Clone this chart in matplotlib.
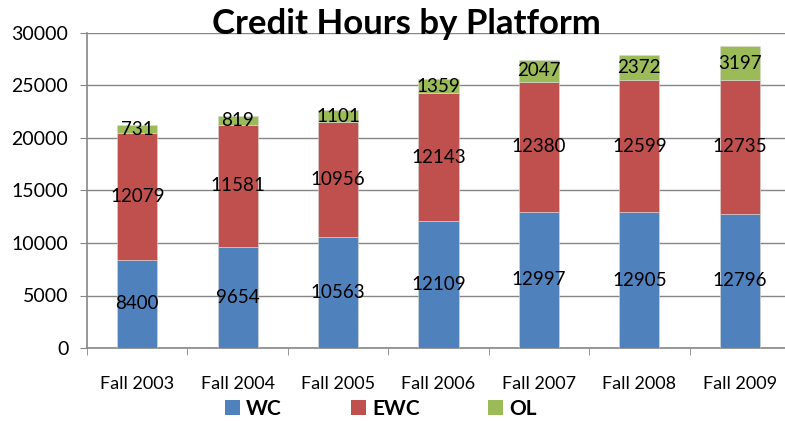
import matplotlib
matplotlib.use('Agg')
import matplotlib.pyplot as plt
import numpy as np
from matplotlib.patches import Patch


TERMS = ['Fall 2003', 'Fall 2004', 'Fall 2005', 'Fall 2006',
         'Fall 2007', 'Fall 2008', 'Fall 2009']
WC = [8400, 9654, 10563, 12109, 12997, 12905, 12796]
EWC = [12079, 11581, 10956, 12143, 12380, 12599, 12735]
OL = [731, 819, 1101, 1359, 2047, 2372, 3197]
SERIES = [('WC', WC, '#4f81bd'), ('EWC', EWC, '#c0504d'), ('OL', OL, '#9bbb59')]
Y_TICKS = [0, 5000, 10000, 15000, 20000, 25000, 30000]


def main():
    plt.rcParams['font.family'] = ['Lato', 'DejaVu Sans']
    fig = plt.figure(figsize=(7.85, 4.21), dpi=100)
    ax = fig.add_axes([87 / 785, 73 / 421, 703 / 785, 315 / 421])

    x = np.arange(len(TERMS))
    bottom = np.zeros(len(TERMS))
    for name, values, color in SERIES:
        vals = np.array(values, dtype=float)
        ax.bar(x, vals, 0.4, bottom=bottom, color=color,
               edgecolor='#d9d9d9', linewidth=0.4, zorder=3)
        for xi, b, v in zip(x, bottom, vals):
            ax.text(xi, b + v / 2, str(int(v)), ha='center', va='center',
                    fontsize=13.5, color='black', zorder=4)
        bottom += vals

    ax.set_xlim(-0.5, len(TERMS) - 0.5)
    ax.set_ylim(0, 30000)
    ax.set_yticks(Y_TICKS)
    ax.set_yticklabels([str(t) for t in Y_TICKS], fontsize=14)
    ax.set_xticks(x)
    ax.set_xticklabels(TERMS, fontsize=13)
    ax.set_xticks(np.arange(len(TERMS) + 1) - 0.5, minor=True)
    ax.tick_params(axis='x', which='major', length=0, pad=20)
    ax.tick_params(axis='x', which='minor', length=5, color='#868686',
                   direction='out')
    ax.tick_params(axis='y', length=5, color='#868686', pad=8.5)
    ax.grid(axis='y', color='#868686', linewidth=1.0, zorder=0)

    for side in ['top', 'right']:
        ax.spines[side].set_visible(False)
    for side in ['left', 'bottom']:
        ax.spines[side].set_color('#868686')
        ax.spines[side].set_linewidth(1.2)

    fig.text(406 / 785, 1 - 24 / 421, 'Credit Hours by Platform',
             ha='center', va='center', fontsize=25, fontweight='bold')

    handles = [Patch(facecolor=c, label=n) for n, _, c in SERIES]
    fig.legend(handles=handles, loc='center', ncol=3,
               bbox_to_anchor=(381 / 785, 1 - 409 / 421),
               frameon=False, handlelength=0.72, handleheight=0.72,
               handletextpad=0.3, columnspacing=3.3,
               prop={'weight': 'bold', 'size': 15})

    fig.savefig('out.png', dpi=100)
    plt.close(fig)


if __name__ == '__main__':
    main()
